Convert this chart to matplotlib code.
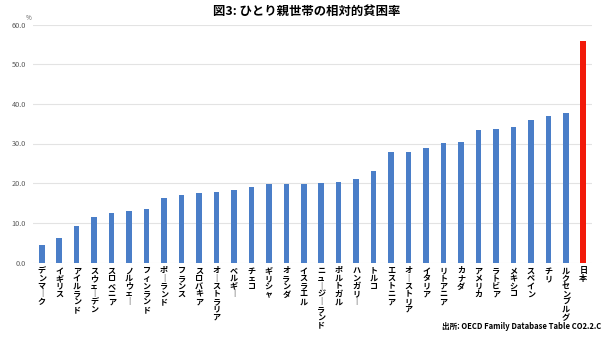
import matplotlib
matplotlib.use("Agg")
import matplotlib.pyplot as plt

plt.rcParams['font.family'] = ['Noto Sans CJK JP', 'DejaVu Sans']

countries = ["デンマーク", "イギリス", "アイルランド", "スウェーデン", "スロベニア", "ノルウェー",
             "フィンランド", "ポーランド", "フランス", "スロバキア", "オーストラリア", "ベルギー",
             "チェコ", "ギリシャ", "オランダ", "イスラエル", "ニュージーランド", "ポルトガル",
             "ハンガリー", "トルコ", "エストニア", "オーストリア", "イタリア", "リトアニア",
             "カナダ", "アメリカ", "ラトビア", "メキシコ", "スペイン", "チリ", "ルクセンブルグ", "日本"]
poverty_rate = [4.4, 6.2, 9.2, 11.4, 12.5, 13.1, 13.4, 16.3, 17.0, 17.6, 17.8, 18.4,
                19.1, 19.7, 19.7, 19.9, 20.0, 20.3, 21.1, 23.0, 27.8, 27.8, 28.9, 30.2,
                30.4, 33.4, 33.6, 34.1, 35.9, 36.9, 37.6, 55.9]
highlight = "日本"
yticks = [0, 10, 20, 30, 40, 50, 60]

W, H = 607, 337
fig = plt.figure(figsize=(W / 100, H / 100), dpi=100)
ax = fig.add_axes([33 / W, (H - 262.5) / H, (592 - 33) / W, (262.5 - 24.5) / H])

colors = ["#f21a0a" if c == highlight else "#4a7ec8" for c in countries]
x = list(range(len(countries)))
ax.bar(x, poverty_rate, width=0.32, color=colors, zorder=3)

ax.set_xlim(-0.5, len(countries) - 0.5)
ax.set_ylim(0, 60)
ax.set_yticks(yticks)
ax.set_yticklabels([f"{v:.1f}" for v in yticks], fontsize=5.3, color="#595959")
ax.grid(axis="y", color="#e3e3e3", linewidth=0.8, zorder=0)
for s in ax.spines.values():
    s.set_visible(False)
ax.tick_params(length=0)
ax.tick_params(axis="y", pad=5)

# vertical (tategaki) category labels, one character per row,
# long vowel mark drawn upright
ax.set_xticks(x)
ax.set_xticklabels([])
step = 5.55      # points between rows
first = 6.0      # points from axis to centre of first row
for i, name in enumerate(countries):
    for j, ch in enumerate(name):
        ax.annotate("｜" if ch == "ー" else ch, xy=(i, 0), xycoords=("data", "axes fraction"),
                    xytext=(0, -(first + j * step)), textcoords="offset points",
                    ha="center", va="center", fontsize=5.8, fontweight="bold",
                    annotation_clip=False)

fig.text(307 / W, 1 - 11 / H, "図3: ひとり親世帯の相対的貧困率", ha="center", va="center",
         fontsize=8.9, fontweight="bold")
fig.text(29 / W, 1 - 18 / H, "%", ha="center", va="center", fontsize=4.5, color="#595959")
fig.text(601 / W, 1 - 326.5 / H, "出所: OECD Family Database Table CO2.2.C", ha="right",
         va="center", fontsize=5.5, fontweight="bold")

fig.savefig("out.png", dpi=100)
